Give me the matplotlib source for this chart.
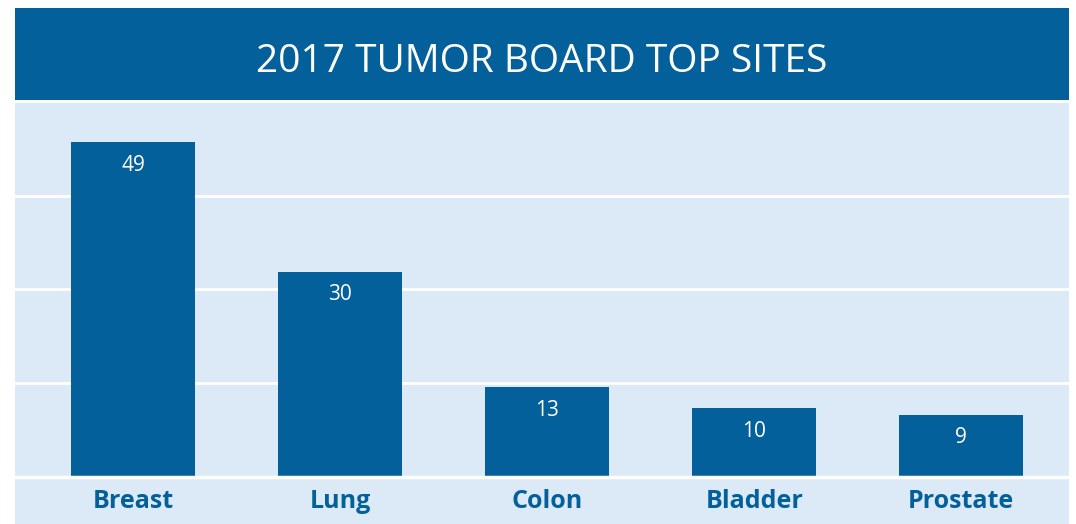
import matplotlib.pyplot as plt
from matplotlib.patches import Rectangle

plt.rcParams['font.family'] = ['Open Sans', 'DejaVu Sans']

# 데이터
sites = ['Breast', 'Lung', 'Colon', 'Bladder', 'Prostate']
counts = [49, 30, 13, 10, 9]
grid_vals = [13.7, 27.4, 41.1]
title = '2017 TUMOR BOARD TOP SITES'

dark = '#03609a'
light = '#dbeaf6'

W, H = 1076, 524
fig = plt.figure(figsize=(W / 100, H / 100), dpi=100)
fig.patch.set_facecolor('white')

# 픽셀 좌표 -> figure 좌표
def fx(px):
    return px / W

def fy(py):
    return 1 - py / H

left, right = 15, 1069
# 제목 배너
fig.patches.append(Rectangle((fx(left), fy(100)), fx(right - left), fy(8) - fy(100),
                             transform=fig.transFigure, facecolor=dark, edgecolor='none', zorder=-2))
# 밝은 배경
fig.patches.append(Rectangle((fx(left), 0), fx(right - left), fy(103),
                             transform=fig.transFigure, facecolor=light, edgecolor='none', zorder=-2))
fig.text(fx((left + right) / 2), fy(62), title, color='white', fontsize=28,
         ha='center', va='center')

ax = fig.add_axes([fx(left), fy(476), fx(right - left), fy(103) - fy(476)])
ax.set_zorder(1)
ax.set_facecolor('none')
x = range(len(sites))
bars = ax.bar(x, counts, width=0.6, color=dark, zorder=3)
ax.set_xlim(-0.57, 4.52)
ax.set_ylim(0, 49 * 373 / 334)

for v in grid_vals:
    ax.axhline(v, color='white', lw=2, zorder=1)

for b, v in zip(bars, counts):
    ax.text(b.get_x() + b.get_width() / 2, v - 3.4, str(v), color='white',
            fontsize=15, ha='center', va='center', zorder=4)

for i, s in enumerate(sites):
    ax.text(i, -3.8, s, color=dark, fontsize=18, fontweight='bold',
            ha='center', va='center', clip_on=False)

# 기준선
fig.add_artist(plt.Line2D([fx(left), fx(right)], [fy(477), fy(477)],
                          transform=fig.transFigure, color='white', lw=2.5, zorder=2))

ax.set_xticks([])
ax.set_yticks([])
for sp in ax.spines.values():
    sp.set_visible(False)

plt.savefig('out.png', dpi=100)
